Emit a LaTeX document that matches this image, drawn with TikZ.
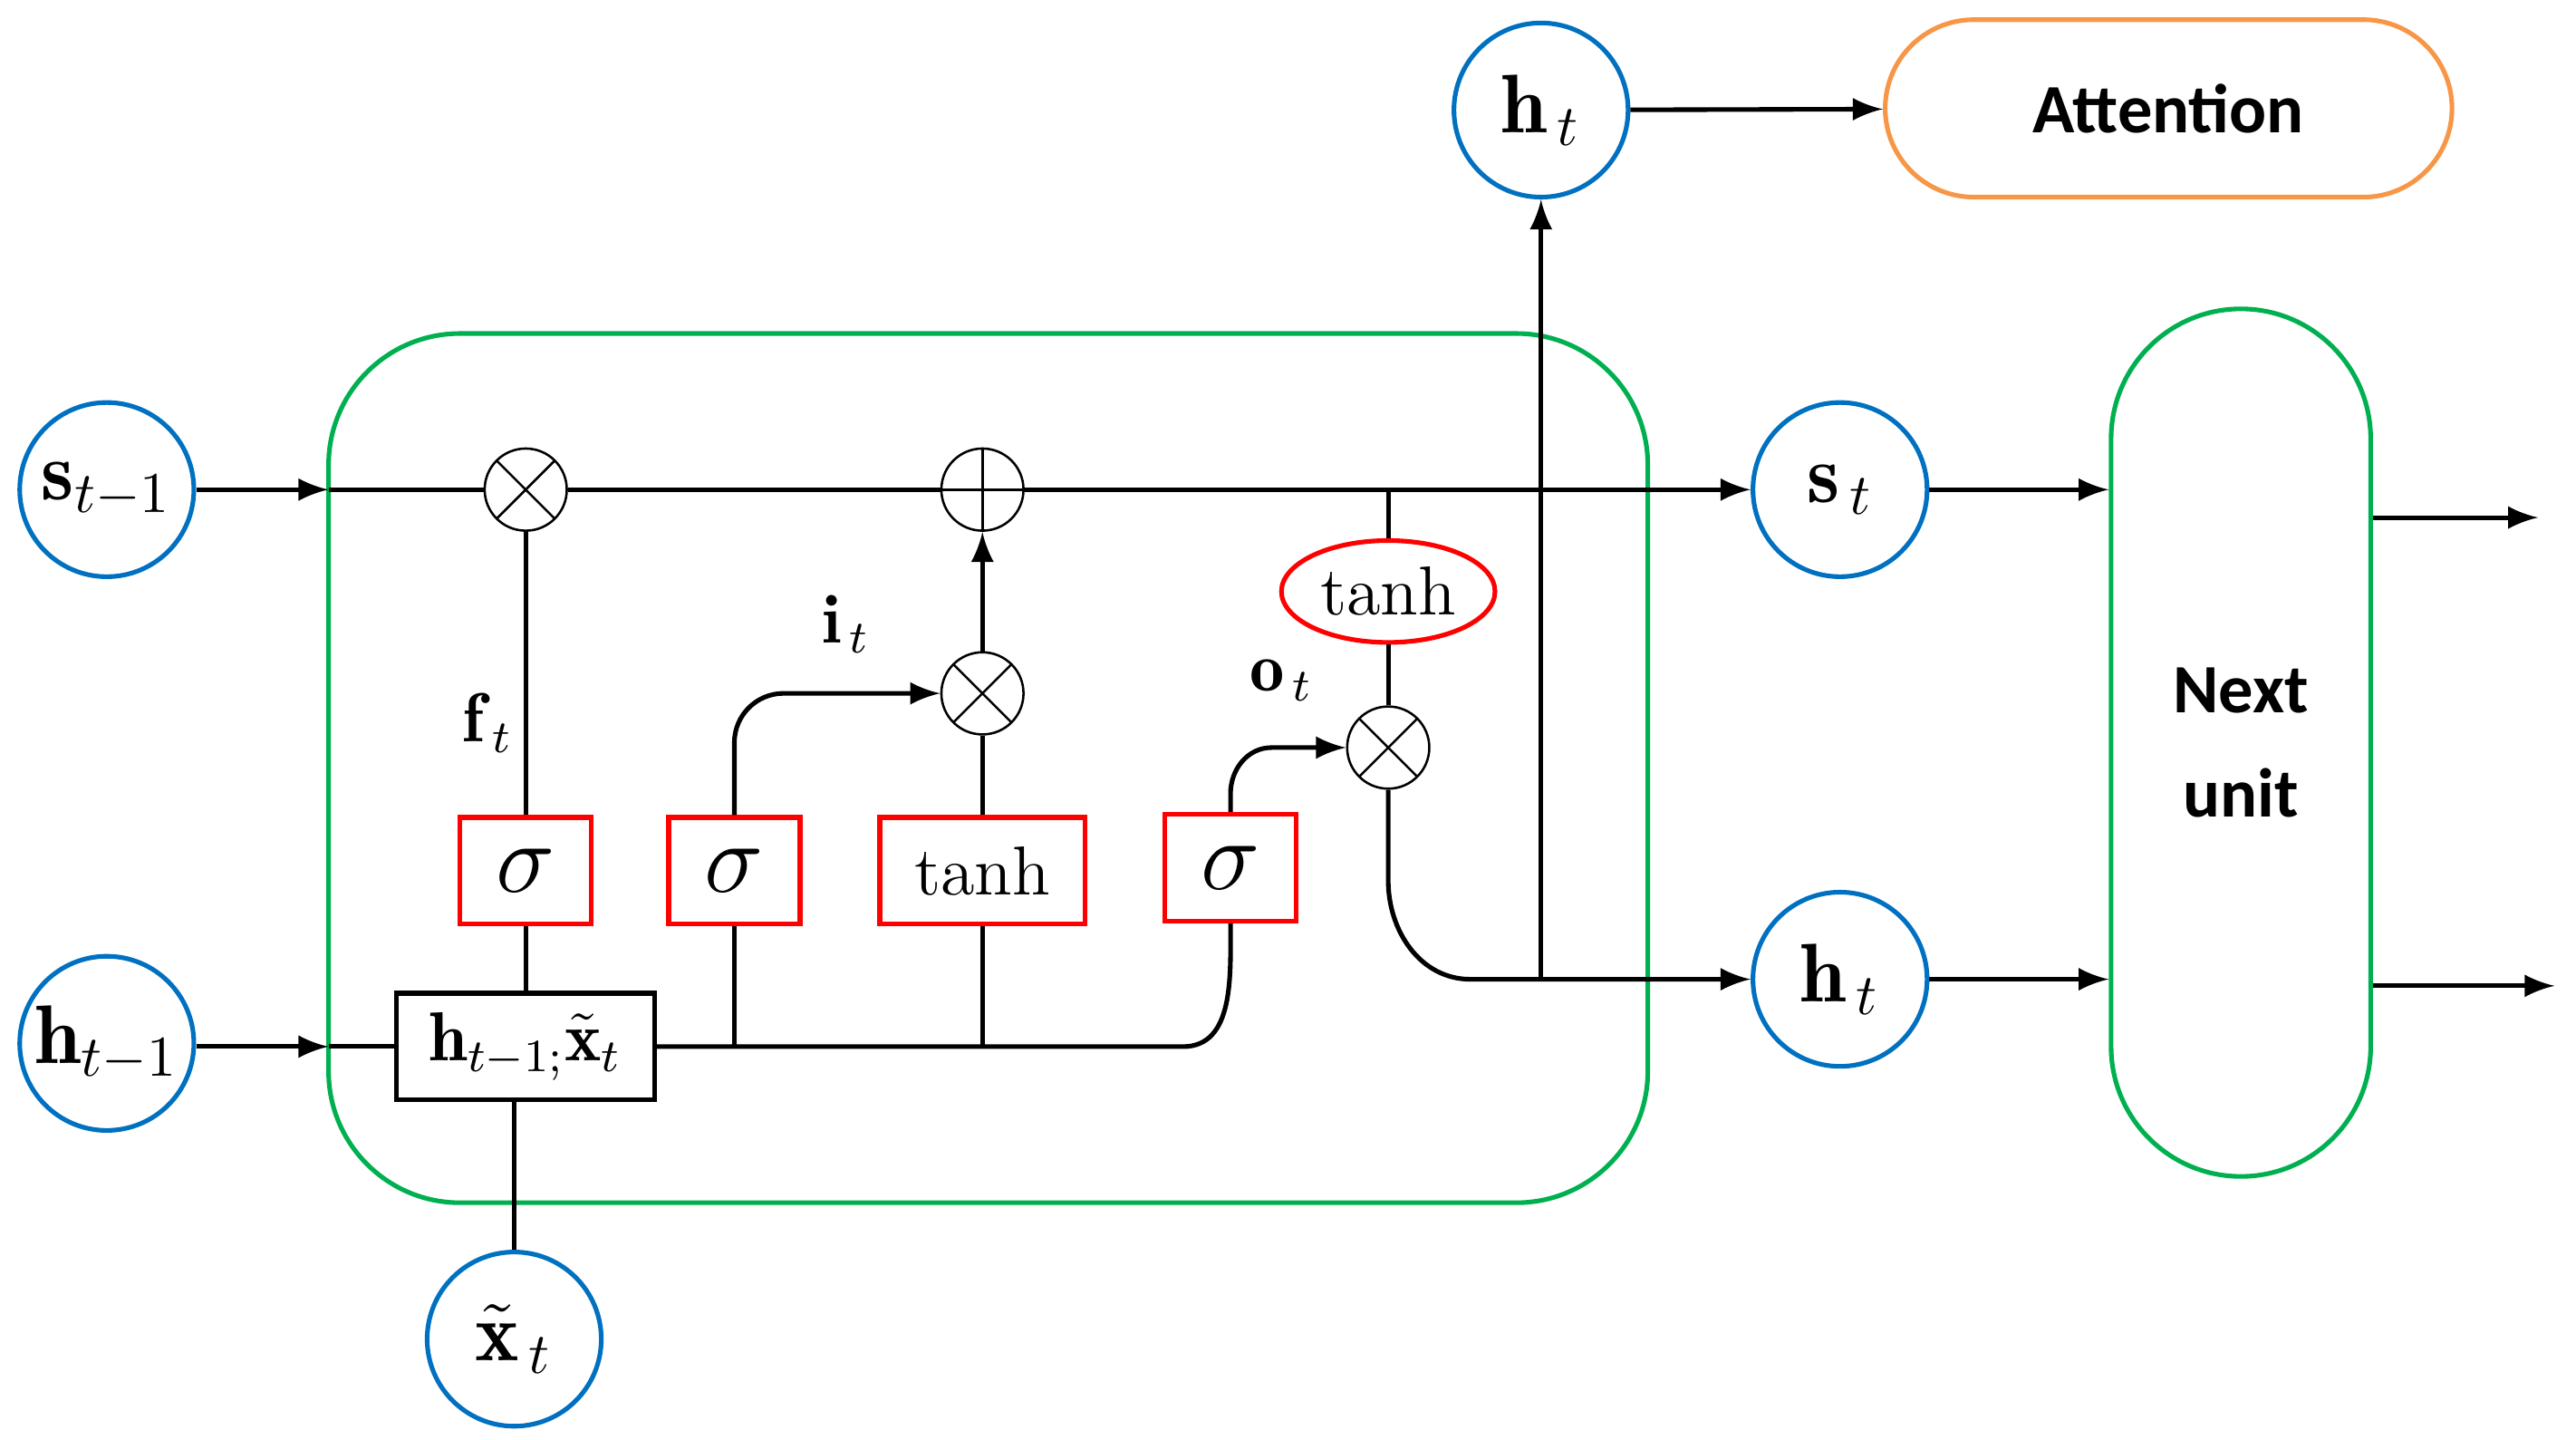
\documentclass[tikz,border=0pt]{standalone}
\usepackage{fontspec}
\usepackage{amsmath}
\usetikzlibrary{calc,positioning,shapes.geometric}
\newfontfamily\labelsf{Carlito}
\definecolor{cblue}{RGB}{0,112,192}
\definecolor{cgreen}{RGB}{0,176,80}
\definecolor{corange}{RGB}{247,150,70}
\tikzset{
  io/.style={circle, draw=cblue, thick, minimum size=10.6mm, inner sep=0pt, font=\Large\bfseries},
  op/.style={circle, draw, minimum size=5mm, inner sep=0pt},
  mul/.style={op, path picture={\draw (path picture bounding box.south west) -- (path picture bounding box.north east) (path picture bounding box.north west) -- (path picture bounding box.south east);}},
  add/.style={op, path picture={\draw (path picture bounding box.south) -- (path picture bounding box.north) (path picture bounding box.west) -- (path picture bounding box.east);}},
  gate/.style={draw=red, thick, minimum width=8mm, minimum height=6.5mm, font=\LARGE},
  arr/.style={thick, -latex},
  ln/.style={thick}
}
\begin{document}
\begin{tikzpicture}[x=1cm, y=1cm]
  \useasboundingbox (0,0) rectangle (15.68,8.76); % 余白
  % 外枠
  \draw[cgreen, thick, rounded corners=8mm] (2.00,1.44) rectangle (10.03,6.73);
  \node[draw=cgreen, thick, rounded corners=7.9mm, minimum width=15.8mm, minimum height=52.8mm, font=\labelsf\large\bfseries, align=center] (nxt) at (13.64,4.24) {Next\\[4pt]unit};
  \node[draw=corange, thick, rounded corners=5.4mm, minimum width=34.5mm, minimum height=10.8mm, font=\labelsf\large\bfseries] (att) at (13.20,8.10) {Attention};
  % 入出力
  \node[io] (sp) at (0.65,5.78) {$\mathbf{s}_{t-1}$};
  \node[io] (hp) at (0.65,2.41) {$\mathbf{h}_{t-1}$};
  \node[io] (xt) at (3.13,0.61) {$\tilde{\mathbf{x}}_{\,t}$};
  \node[io] (st) at (11.20,5.78) {$\mathbf{s}_{\,t}$};
  \node[io] (ht) at (11.20,2.80) {$\mathbf{h}_{\,t}$};
  \node[io] (hu) at (9.38,8.09) {$\mathbf{h}_{\,t}$};
  % 演算
  \node[mul] (mf) at (3.20,5.78) {};
  \node[add] (pl) at (5.98,5.78) {};
  \node[mul] (mi) at (5.98,4.54) {};
  \node[mul] (mo) at (8.45,4.21) {};
  \node[draw=red, thick, ellipse, minimum width=13mm, minimum height=6.2mm, inner sep=1pt, font=\large] (th) at (8.45,5.16) {tanh};
  \node[gate] (gf) at (3.20,3.46) {$\sigma$};
  \node[gate] (gi) at (4.47,3.46) {$\sigma$};
  \node[gate, minimum width=12.5mm, font=\large] (gc) at (5.98,3.46) {tanh};
  \node[gate] (go) at (7.49,3.48) {$\sigma$};
  \node[draw, thick, minimum width=15.7mm, minimum height=6.5mm, inner sep=1pt, font=\large\bfseries] (cc) at (3.20,2.39) {$\mathbf{h}_{t-1;}\tilde{\mathbf{x}}_t$};
  % ラベル
  \node[font=\large\bfseries] at (2.97,4.36) {$\mathbf{f}_{\,t}$};
  \node[font=\large\bfseries] at (5.15,4.96) {$\mathbf{i}_{\,t}$};
  \node[font=\large\bfseries] at (7.80,4.62) {$\mathbf{o}_{\,t}$};
  % 接続
  \coordinate (ein) at (2.00,5.78);
  \coordinate (hin) at (2.00,2.39);
  \draw[arr] (sp) -- (ein);
  \draw[ln] (ein) -- (mf);
  \draw[arr] (hp.east |- hin) -- (hin);
  \draw[ln] (hin) -- (cc);
  \draw[ln] (xt) -- (xt |- cc.south);
  \draw[ln] (cc) -- (gf);
  \draw[ln] (gf) -- (mf);
  \draw[ln] (mf) -- (pl);
  \draw[arr] (pl) -- (st);
  \draw[ln] (th) -- (8.45,5.78);
  \draw[ln] (th) -- (mo);
  \draw[arr] (mi) -- (pl);
  \draw[ln] (gc) -- (mi);
  \draw[ln] (cc.east) -- (7.20,2.39) to[out=0,in=-90] (go.south);
  \draw[ln] (4.47,2.39) -- (gi);
  \draw[ln] (5.98,2.39) -- (gc);
  \draw[arr] (gi.north) -- (4.47,4.24) to[out=90,in=180] (4.77,4.54) -- (mi);
  \draw[arr] (go.north) -- (7.49,3.93) to[out=90,in=180] (7.74,4.21) -- (mo);
  \draw[arr] (mo.south) -- (8.45,3.40) to[out=-90,in=180] (8.95,2.80) -- (ht);
  \draw[arr] (9.38,2.80) -- (hu);
  \draw[arr] (hu) -- (att);
  \draw[arr] (st) -- (st -| nxt.west);
  \draw[arr] (ht) -- (ht -| nxt.west);
  \coordinate (o1) at (15.45,5.61);
  \coordinate (o2) at (15.55,2.76);
  \draw[arr] (nxt.east |- o1) -- (o1);
  \draw[arr] (nxt.east |- o2) -- (o2);
\end{tikzpicture}
\end{document}
